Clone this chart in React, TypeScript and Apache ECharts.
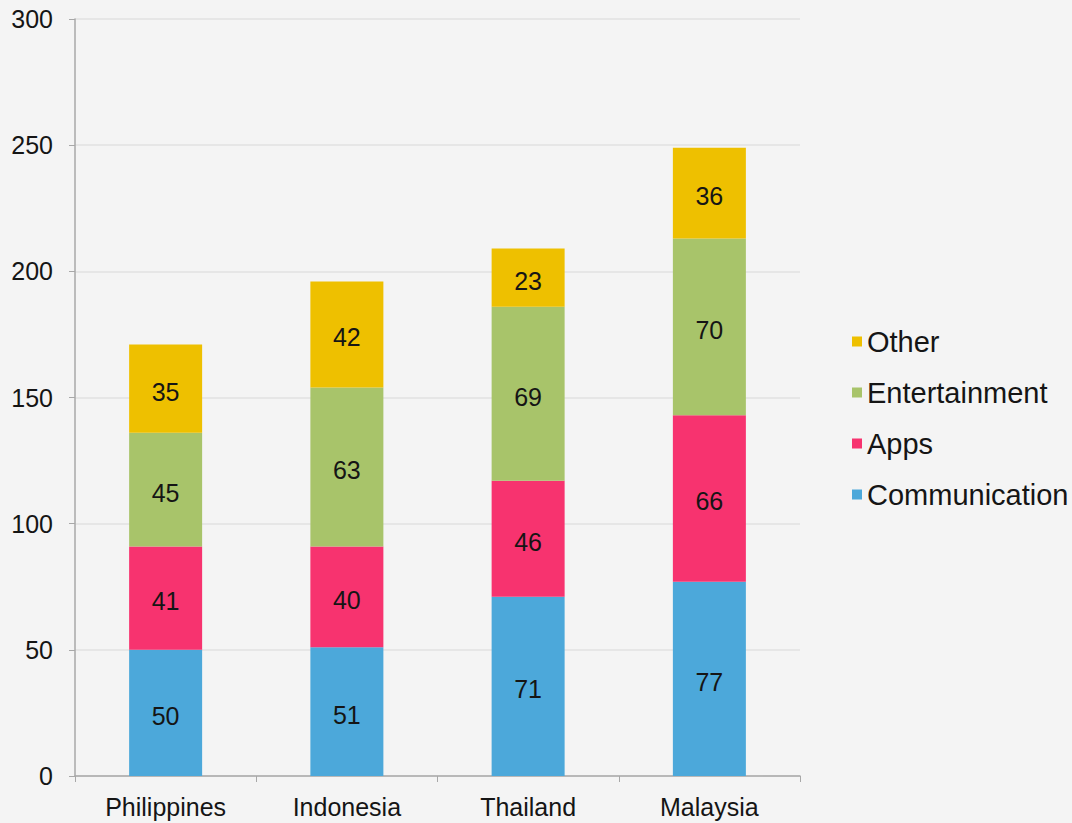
import React, { useEffect, useRef } from "react";
import * as echarts from "echarts";

const categories = ["Philippines", "Indonesia", "Thailand", "Malaysia"];
const communication = [50, 51, 71, 77];
const apps = [41, 40, 46, 66];
const entertainment = [45, 63, 69, 70];
const other = [35, 42, 23, 36];
const yTicks = [0, 50, 100, 150, 200, 250, 300];

const FONT = "'Liberation Sans', Arial, Helvetica, sans-serif";
const TEXT = "#151515";

const seriesDefs = [
  { name: "Communication", data: communication, color: "#4ca8da" },
  { name: "Apps", data: apps, color: "#f7336f" },
  { name: "Entertainment", data: entertainment, color: "#a8c46a" },
  { name: "Other", data: other, color: "#eec000" },
];

export default function App() {
  const ref = useRef<HTMLDivElement>(null);
  useEffect(() => {
    if (!ref.current) return;
    const chart = echarts.init(ref.current, undefined, { renderer: "svg" });
    chart.setOption({
      animation: false,
      backgroundColor: "#f4f4f4",
      textStyle: { fontFamily: FONT },
      grid: { left: 75, right: 272, top: 19, bottom: 47, containLabel: false },
      legend: {
        orient: "vertical",
        left: 847,
        top: 315,
        itemWidth: 10,
        itemHeight: 10,
        itemGap: 8,
        icon: "rect",
        data: ["Other", "Entertainment", "Apps", "Communication"],
        textStyle: {
          fontFamily: FONT,
          fontSize: 29,
          color: TEXT,
          lineHeight: 29,
          padding: [14, 0, 0, 0],
        },
      },
      xAxis: {
        type: "category",
        data: categories,
        axisLine: { lineStyle: { color: "#a8a8a8", width: 1.5 } },
        axisTick: { show: true, length: 6, lineStyle: { color: "#a8a8a8" } },
        axisLabel: { fontFamily: FONT, fontSize: 25, color: TEXT, margin: 18 },
      },
      yAxis: {
        type: "value",
        min: 0,
        max: 300,
        interval: 50,
        axisLine: { show: true, lineStyle: { color: "#a8a8a8", width: 1.5 } },
        axisTick: { show: true, length: 6, lineStyle: { color: "#a8a8a8" } },
        splitLine: { lineStyle: { color: "#e2e2e2", width: 1.5 } },
        axisLabel: {
          fontFamily: FONT,
          fontSize: 25,
          color: TEXT,
          margin: 22,
          padding: [0, 0, 10, 0],
          formatter: (v: number) => (yTicks.includes(v) ? String(v) : ""),
        },
      },
      series: seriesDefs.map((s) => ({
        name: s.name,
        type: "bar",
        stack: "total",
        barWidth: 73,
        data: s.data,
        itemStyle: { color: s.color },
        label: {
          show: true,
          position: "inside",
          fontFamily: FONT,
          fontSize: 25,
          color: TEXT,
          offset: [0, 3],
        },
      })),
    });
    return () => chart.dispose();
  }, []);
  return (
    <div
      ref={ref}
      style={{ position: "absolute", left: 0, top: 0, width: 1072, height: 823 }}
    />
  );
}
